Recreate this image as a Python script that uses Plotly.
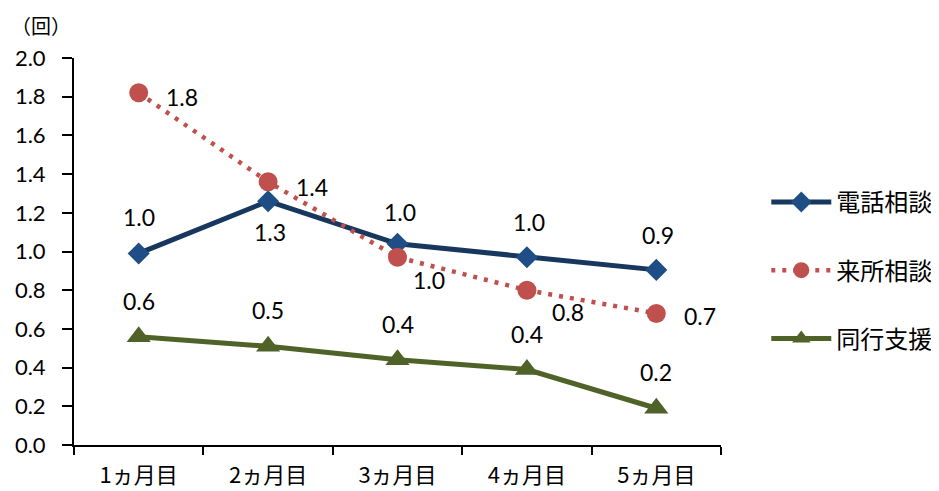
import plotly.graph_objects as go

categories = ["1ヵ月目", "2ヵ月目", "3ヵ月目", "4ヵ月目", "5ヵ月目"]
phone = [0.99, 1.26, 1.04, 0.97, 0.905]
visit = [1.82, 1.36, 0.97, 0.80, 0.68]
accompany = [0.56, 0.51, 0.44, 0.39, 0.19]
y_ticks = [0.0, 0.2, 0.4, 0.6, 0.8, 1.0, 1.2, 1.4, 1.6, 1.8, 2.0]

NUM_FONT = "Lato, 'Noto Sans CJK JP', sans-serif"
CJK_FONT = "'Noto Sans CJK JP', sans-serif"

fig = go.Figure()
fig.add_trace(go.Scatter(
    x=categories, y=phone, name="電話相談", mode="lines+markers",
    line=dict(color="#17375E", width=5),
    marker=dict(symbol="diamond", size=17, color="#1F4E86"),
    legendgroup="a"))
fig.add_trace(go.Scatter(
    x=categories, y=visit, name="来所相談", mode="lines+markers",
    line=dict(color="#C0504D", width=4.5, dash="4px,7px"),
    marker=dict(symbol="circle", size=19, color="#C0504D"),
    legendgroup="b"))
fig.add_trace(go.Scatter(
    x=categories, y=accompany, name="同行支援", mode="lines+markers",
    line=dict(color="#4F6228", width=5),
    marker=dict(symbol="triangle-up", size=21, color="#4F6228"),
    legendgroup="c"))

# label offsets (px) per series
offsets = {
    0: [(0, 36), (2, -31), (2, 32), (2, 35), (2, 35)],
    1: [(43, -4), (44, -5), (31, -23), (41, -22), (44, -3)],
    2: [(0, 36), (0, 36), (0, 36), (0, 36), (0, 36)],
}
for si, series in enumerate([phone, visit, accompany]):
    for ci, (c, v) in enumerate(zip(categories, series)):
        dx, dy = offsets[si][ci]
        fig.add_annotation(x=c, y=v, text=f"{v:.1f}", showarrow=False,
                           xshift=dx, yshift=dy,
                           font=dict(family=NUM_FONT, size=23, color="#000"))

fig.add_annotation(xref="paper", yref="paper", x=-0.100, y=1.085,
                   xanchor="left", yanchor="middle", text="（回）",
                   showarrow=False, font=dict(family=CJK_FONT, size=20, color="#000"))

# page shows the figure offset by the default 8px body margin
fig.update_layout(
    template="none",
    width=931, height=483,
    margin=dict(l=66, r=218, t=50, b=46, autoexpand=False),
    paper_bgcolor="white", plot_bgcolor="white",
    showlegend=True,
    legend=dict(x=1.07, xanchor="left", y=0.685, yanchor="top",
                font=dict(family=CJK_FONT, size=24, color="#000"),
                tracegroupgap=34, itemwidth=60, bgcolor="rgba(0,0,0,0)"),
    xaxis=dict(type="category", range=[-0.5, 4.5], autorange=False,
               showline=True, linecolor="#000", linewidth=2,
               ticks="outside", tickson="boundaries", ticklen=8, tickwidth=2,
               tickcolor="#000", showgrid=False, zeroline=False,
               ticklabelstandoff=10, automargin=False,
               tickfont=dict(family=CJK_FONT, size=22, color="#000")),
    yaxis=dict(range=[0, 2], autorange=False, tickvals=y_ticks, tickformat=".1f",
               showline=True, linecolor="#000", linewidth=2,
               ticks="outside", ticklen=10, tickwidth=2, tickcolor="#000",
               showgrid=False, zeroline=False, ticklabelstandoff=12,
               automargin=False,
               tickfont=dict(family=NUM_FONT, size=22, color="#000")),
)

fig.write_html("out.html")
